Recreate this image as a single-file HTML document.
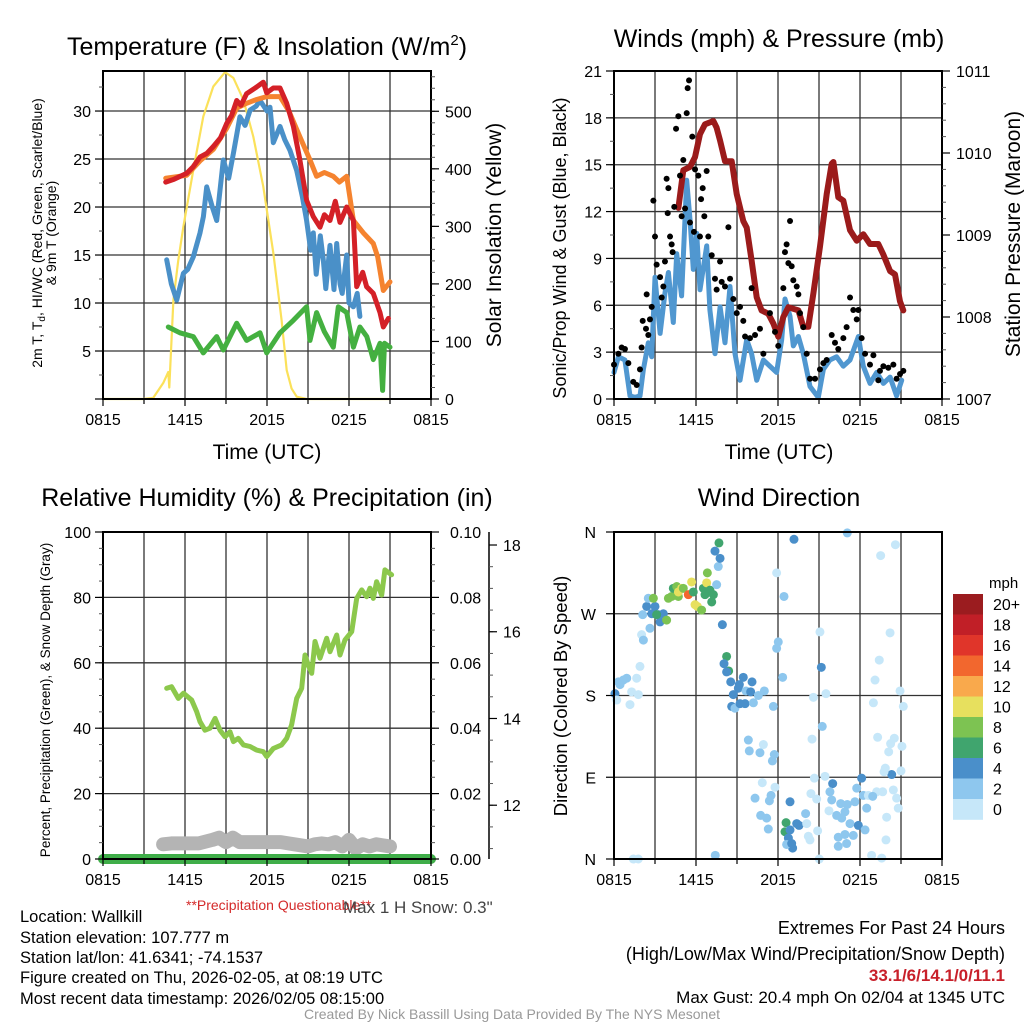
<!DOCTYPE html>
<html><head><meta charset="utf-8"><style>
html,body{margin:0;padding:0;background:#fff;}
svg{display:block;font-family:"Liberation Sans",Arial,sans-serif;}
</style></head><body>
<svg id="fig" width="1024" height="1024" viewBox="0 0 1024 1024" xmlns="http://www.w3.org/2000/svg">
<rect x="0" y="0" width="1024" height="1024" fill="#fff"/>
<text x="267" y="55" font-size="25" text-anchor="middle">Temperature (F) &amp; Insolation (W/m<tspan font-size="15" dy="-10">2</tspan><tspan dy="10">)</tspan></text>
<text x="779" y="47" font-size="25" text-anchor="middle">Winds (mph) &amp; Pressure (mb)</text>
<text x="267" y="506" font-size="25" text-anchor="middle">Relative Humidity (%) &amp; Precipitation (in)</text>
<text x="779" y="506" font-size="25" text-anchor="middle">Wind Direction</text>
<text x="267" y="459" font-size="21" text-anchor="middle">Time (UTC)</text>
<text x="779" y="459" font-size="21" text-anchor="middle">Time (UTC)</text>
<text transform="translate(42,233) rotate(-90)" font-size="14" text-anchor="middle">2m T, T<tspan font-size="10" dy="3">d</tspan><tspan dy="-3">, HI/WC (Red, Green, Scarlet/Blue)</tspan></text>
<text transform="translate(56,233) rotate(-90)" font-size="14" text-anchor="middle">&amp; 9m T (Orange)</text>
<text transform="translate(501,235) rotate(-90)" font-size="21" text-anchor="middle">Solar Insolation (Yellow)</text>
<text transform="translate(566,248) rotate(-90)" font-size="18" text-anchor="middle">Sonic/Prop Wind &amp; Gust (Blue, Black)</text>
<text transform="translate(1020,234) rotate(-90)" font-size="21" text-anchor="middle">Station Pressure (Maroon)</text>
<text transform="translate(50,700) rotate(-90)" font-size="13.5" text-anchor="middle">Percent, Precipitation (Green), &amp; Snow Depth (Gray)</text>
<text transform="translate(567,696) rotate(-90)" font-size="18.5" text-anchor="middle">Direction (Colored By Speed)</text>
<text x="186" y="910" font-size="14" fill="#d42a2a">**Precipitation Questionable**</text>
<text x="343" y="913" font-size="17" fill="#444">Max 1 H Snow: 0.3"</text>
<g font-size="16.5">
<text x="20" y="922">Location: Wallkill</text>
<text x="20" y="943">Station elevation: 107.777 m</text>
<text x="20" y="963">Station lat/lon: 41.6341; -74.1537</text>
<text x="20" y="983">Figure created on Thu, 2026-02-05, at 08:19 UTC</text>
<text x="20" y="1004">Most recent data timestamp: 2026/02/05 08:15:00</text>
</g>
<g font-size="18" text-anchor="end">
<text x="1005" y="934">Extremes For Past 24 Hours</text>
<text x="1005" y="960">(High/Low/Max Wind/Precipitation/Snow Depth)</text>
<text x="1005" y="981" fill="#c8202a" font-weight="bold" font-size="17">33.1/6/14.1/0/11.1</text>
<text x="1005" y="1003" font-size="17">Max Gust: 20.4 mph On 02/04 at 1345 UTC</text>
</g>
<text x="512" y="1019" font-size="14" fill="#999" text-anchor="middle">Created By Nick Bassill Using Data Provided By The NYS Mesonet</text>
</svg>
<script>
// ---- data ----
const timeTickLabels = ["0815","1415","2015","0215","0815"];
const tempRedHours = [4.59,5.2,6.12,6.6,7.10,7.6,8.07,8.6,9.05,9.4,9.78,10.1,10.51,11.24,11.73,11.98,12.46,12.95,13.44,13.93,14.41,14.90,15.39,15.88,16.2,16.61,17.0,17.34,17.83,18.32,18.56,19.0,19.29,19.78,20.27,20.51,20.88];
const tempRedValues = [22.6,22.9,23.5,24.2,25.2,25.6,26.3,27.2,28.7,29.5,31.1,30.6,31.8,32.5,33,31.9,32.4,32.4,30.8,28.4,24.9,20.7,19,17.9,19.2,18.6,20.6,18.4,20,18.6,11.7,13.2,11.7,11,9,7.5,8.4];
const temp9mHours = [4.59,6.12,7.10,8.07,9.05,9.78,10.51,11.24,11.98,12.95,13.6,14.41,15.15,15.63,16.2,16.85,17.3,17.83,18.32,19.05,19.78,20.1,20.51,21.0];
const temp9mValues = [23,23.3,24.8,26,28.2,30.3,30.8,31.2,31.5,31.5,30,27.3,24.9,23.2,23.6,23.2,22.6,23.2,18.6,17.3,16.2,14.8,11.3,12.2];
const tempBlueHours = [4.66,5.0,5.39,5.88,6.2,6.61,7.10,7.35,7.59,8.0,8.32,8.80,9.2,9.54,10.02,10.4,10.76,11.2,11.49,12.0,12.22,12.46,12.95,13.3,13.68,14.17,14.6,14.90,15.2,15.39,15.6,15.9,16.12,16.3,16.61,16.9,17.1,17.34,17.5,17.83,18.0,18.32,18.6,18.80];
const tempBlueValues = [14.5,12,10.3,13.1,13.5,14.8,17.3,19,22.1,20,18.6,24.9,23,25.6,29.4,28.5,30.1,30.5,31.1,30,30.4,26.7,28.4,27,25.9,23.8,21,18.6,15.5,17.3,13,17,14.5,11.5,16,11.4,16.2,12,11,15,10,9.6,11,8.6];
const tempGreenHours = [4.78,5.63,6.61,7.34,8.32,8.80,9.78,10.51,11.49,11.98,12.95,13.93,14.90,15.15,15.63,16.2,16.85,17.22,17.83,18.32,18.80,19.3,19.78,20.27,20.46,20.6,21.0];
const tempGreenValues = [7.5,6.9,6.5,4.8,6.5,5.1,7.9,6.1,6.9,4.8,6.9,8.2,9.6,6.1,9,7,5.4,9.6,9,5.4,7.5,6.5,4.1,5.8,0.9,5.8,5.4];
const insolHours = [0,2.95,3.68,4.41,4.78,4.85,5.15,5.5,5.88,6.61,7.34,8.07,8.93,9.54,10.27,11.0,11.73,12.46,13.07,13.44,13.8,14.17,14.9,21.0];
const insolValues = [0,0,2,28,47,20,172,240,300,398,491,543,568,558,520,456,369,254,137,50,18,4,0,0];
const windHours = [0,0.32,0.80,1.17,1.54,1.90,2.15,2.51,2.76,3.0,3.37,3.73,3.98,4.34,4.59,4.95,5.32,5.56,5.80,6.05,6.29,6.78,7.02,7.39,7.76,8.12,8.49,8.85,9.22,9.71,10.07,10.44,10.93,11.41,11.90,12.27,12.51,12.88,13.12,13.49,13.85,14.34,14.95,15.32,15.80,16.29,16.78,17.27,17.88,18.24,18.73,19.22,19.71,20.20,20.68,21.05];
const windValues = [1.7,2.7,2.5,0.2,0.1,0.2,1.9,3.6,2.7,7.8,4.2,6.8,8.1,4.9,9.3,6.6,14,11.5,8.3,10.6,7,9.8,5.7,2.9,5.9,3.6,7.2,2.9,1.2,3.8,2.9,1.2,2.5,2.1,1.7,3.8,6.4,5.3,3.4,4,2.9,0.8,0.1,1.9,2.5,2.7,2.1,2.5,4,2.1,1,1.7,1,1.4,0.2,1.2];
const gustHours = [0,.32,.56,.80,1.05,1.41,1.66,1.90,2.02,2.10,2.34,2.51,2.63,2.76,2.39,2.88,3.0,3.12,3.37,3.49,3.61,3.73,3.85,3.98,3.93,4.10,4.22,4.29,4.41,4.54,4.71,4.83,4.95,5.07,5.20,5.32,5.39,5.49,5.56,5.73,5.85,5.93,6.17,6.29,6.37,6.49,6.61,6.78,6.90,7.15,7.39,7.51,7.76,7.88,8.12,8.37,8.49,8.73,8.98,9.22,9.46,9.59,9.95,10.07,10.32,10.68,10.93,11.41,11.78,12.02,12.39,12.51,12.63,12.88,12.76,13.0,13.12,13.37,13.49,13.61,13.85,14.10,14.34,14.71,15.07,15.32,15.56,15.93,16.17,16.41,16.78,17.02,17.27,17.51,17.76,17.88,18.12,18.37,18.73,18.98,19.34,19.46,19.71,20.07,20.44,20.68,20.93,21.17];
const gustValues = [2.2,2.9,3.3,3.2,2.3,1.1,0.9,1.9,3.3,5.0,4.5,4.1,5.1,5.9,6.7,12.7,10.4,8.6,7.8,6.5,7.2,8.8,14.1,13.5,11.9,10.4,9.9,9.4,12.3,17.3,18.1,14.3,11.7,15.3,12.2,18.3,19.9,20.4,11.3,16.8,10.7,14.7,14.3,10.4,12.8,13.5,11.7,14.6,10.4,9.2,7.7,7.0,8.8,7.5,7.2,11.0,7.7,6.4,5.5,5.9,5.0,4.0,3.9,7.1,4.1,4.5,2.9,5.5,4.3,3.4,7.1,9.4,9.9,11.4,8.7,8.5,7.6,7.2,6.7,5.5,4.6,2.9,1.3,1.3,1.9,2.3,2.5,4.1,3.6,3.2,3.9,4.6,6.5,5.7,5.1,5.7,3.9,2.9,2.2,2.8,1.2,1.8,2.1,2.0,2.2,1.3,1.6,1.8];
const pressureHours = [4.71,5.07,5.56,5.93,6.29,6.66,7.27,7.51,7.76,8.12,8.61,8.98,9.46,9.71,10.07,10.44,10.80,11.29,11.66,12.02,12.39,12.76,13.12,13.49,13.85,14.22,14.59,15.07,15.56,15.93,16.05,16.41,16.78,17.27,17.76,18.24,18.73,19.34,19.71,20.20,20.56,20.93,21.17];
const pressureValues = [1009.33,1009.79,1009.83,1009.95,1010.23,1010.35,1010.39,1010.31,1010.15,1009.90,1009.90,1009.5,1009.17,1009.09,1008.69,1008.24,1008.08,1008.04,1007.92,1007.76,1008.0,1008.12,1008.1,1008.08,1007.88,1007.88,1008.29,1008.86,1009.5,1009.87,1009.89,1009.46,1009.42,1009.06,1008.93,1009.01,1008.89,1008.89,1008.76,1008.56,1008.52,1008.19,1008.08];
const rhHours = [4.66,5.02,5.51,5.88,6.49,6.85,7.10,7.46,7.83,8.20,8.56,8.93,9.29,9.54,9.90,10.27,10.76,11.24,11.73,11.98,12.46,13.07,13.44,13.80,14.17,14.54,14.78,15.02,15.27,15.51,15.88,16.37,16.61,17.10,17.34,17.71,18.20,18.56,18.93,19.29,19.54,19.78,20.02,20.39,20.63,21.12];
const rhValues = [52.2,52.7,49.1,50.7,48.6,45.1,42.0,39.4,40.0,43.0,39.4,37.4,38.9,35.9,36.9,34.9,34.4,33.3,32.8,31.3,33.8,34.9,36.9,41.0,49.1,52.2,62.4,59.3,56.8,66.5,61.4,67.5,63.4,68.5,62.4,67.0,69.5,79.7,82.3,80.2,82.8,79.7,84.8,80.7,88.4,86.9];
const precipHours = [0,24];
const precipValues = [0,0];
const snowHours = [4.4,5,6,7,8,8.5,9,9.5,10,11,12,13,14,15,15.5,16,16.5,17,17.5,18,18.5,19,19.5,20,21];
const snowValues = [11.1,11.12,11.12,11.12,11.2,11.25,11.15,11.25,11.15,11.15,11.15,11.15,11.1,11.05,11.1,11.12,11.1,11.15,11.05,11.2,11.0,11.1,11.05,11.1,11.05];
const dirHours = [.32,.68,.93,.44,.07,.20,1.17,1.29,1.66,1.90,1.78,1.41,1.78,
2.02,2.15,2.63,2.10,2.39,2.51,2.76,3.0,3.24,3.37,3.61,3.85,2.88,3.12,3.98,4.22,4.34,4.71,4.59,4.71,4.95,5.07,5.44,5.68,5.80,5.93,6.10,6.41,6.54,6.78,6.83,7.02,7.27,7.15,6.66,7.51,7.63,7.76,7.39,7.68,
7.93,8.24,8.05,8.39,8.24,8.54,9.46,9.17,9.10,10.10,9.66,10.0,10.56,11.0,8.73,8.61,8.85,9.22,9.59,10.20,11.66,
9.83,9.90,10.68,10.93,11.73,11.59,10.85,10.32,11.49,11.37,11.78,10.73,11.17,11.29,12.02,11.90,12.34,12.44,11.90,13.17,12.59,12.51,12.88,12.88,13.37,13.54,14.02,12.76,13.07,12.63,13.0,14.22,14.34,14.10,14.90,14.41,14.83,14.49,14.66,15.44,7.41,
15.07,15.17,15.51,14.59,15.24,15.02,17.07,16.0,15.80,15.93,16.59,17.07,17.63,17.76,18.12,18.24,15.73,16.29,16.66,16.90,17.27,17.88,18.37,18.49,16.41,16.90,17.51,16.41,17.02,18.61,19.22,19.66,18.93,19.95,20.44,20.68,20.80,21.0,20.32,19.85,19.76,20.10,20.51,20.24,21.07,19.29,18.98,21.17,20.93,19.10,19.41,20.20,19.51,20.59,19.90,18.85,19.59];
const dirDegrees = [195,197,199,192,182,175,170,184,199,212,181,0,0,
247,241,254,269,278,287,270,278,269,261,270,263,287,269,287,289,298,289,300,294,298,298,291,305,294,280,278,274,298,304,315,296,291,283,291,302,322,331,339,348,
258,223,215,207,206,195,200,192,188,195,185,184,180,185,181,168,166,171,171,172,168,
131,119,117,126,115,108,84,67,70,64,79,48,45,33,239,232,200,289,315,352,40,30,63,32,39,37,50,23,12,16,17,25,21,39,31,72,66,132,89,91,4,
250,211,182,178,146,0,359,83,74,65,61,60,63,78,89,70,53,48,45,52,39,37,32,56,24,27,26,14,17,70,74,74,69,46,76,67,56,97,93,100,96,118,133,127,124,134,172,168,185,197,219,249,334,346,21,4,1];
const dirSpeeds = [3,3,3,3,5,1,1,1,1,1,1,1,1,
1,3,3,3,5,3,5,5,5,5,5,9,9,7,9,9,7,9,9,11,11,9,15,11,7,11,11,9,7,11,9,7,7,7,7,3,3,5,5,7,
5,7,5,7,5,5,5,5,5,5,3,5,3,3,5,5,3,5,5,3,3,
3,3,3,1,3,3,1,3,3,3,1,3,3,3,3,3,3,3,1,5,7,7,5,5,5,5,3,5,5,3,5,1,1,1,1,1,1,1,1,1,3,
1,5,1,1,3,1,3,5,3,3,3,3,3,3,5,3,1,3,3,3,3,5,3,3,3,3,3,3,3,1,1,1,3,1,1,1,1,1,5,1,1,1,1,1,1,1,1,1,1,1,1,1,1,1,1,1,1];
const speedBinLabels = ["20+","18","16","14","12","10","8","6","4","2","0"];
const speedBinColors = ["#9b1c1f","#c11f27","#e0352a","#f2672e","#f9a94c","#e7e05e","#7dc352","#40a56e","#4a8fca","#8ec7ee","#c6e7f9"];

// ---- helpers ----
const NS="http://www.w3.org/2000/svg";
const svg=document.getElementById('fig');
const TICK_FS=16;
function mk(tag,attrs,parent){const e=document.createElementNS(NS,tag);for(const k in attrs)e.setAttribute(k,attrs[k]);(parent||svg).appendChild(e);return e;}
function lin(d0,d1,r0,r1){return v=>r0+(v-d0)/(d1-d0)*(r1-r0);}
const P1={x0:103,x1:431,y0:71,y1:399}, P2={x0:614,x1:942,y0:71,y1:399}, P3={x0:103,x1:431,y0:532,y1:859}, P4={x0:614,x1:942,y0:532,y1:859};
function xs(P){return lin(0,24,P.x0,P.x1);}
function pathD(hs,vs,fx,fy){let d='';const n=Math.min(hs.length,vs.length);for(let i=0;i<n;i++){d+=(i?'L':'M')+fx(hs[i]).toFixed(1)+' '+fy(vs[i]).toFixed(1);}return d;}

function grid(P,ys,name){
  const g=mk('g',{});
  
  
  const fx=xs(P);
  for(let h=3;h<24;h+=3){const l=mk('line',{x1:fx(h),x2:fx(h),y1:P.y0,y2:P.y1,stroke:'#333','stroke-width':1.3},g);
    
    }
  ys.forEach(y=>{const l=mk('line',{x1:P.x0,x2:P.x1,y1:y,y2:y,stroke:'#333','stroke-width':1.3},g);
    
    });
}
function frame(P,name){
  const r=mk('rect',{x:P.x0,y:P.y0,width:P.x1-P.x0,height:P.y1-P.y0,fill:'none',stroke:'#000','stroke-width':2});
  
  
}
function xAxis(P,name){
  const fx=xs(P);const g=mk('g',{});
  
  
  for(let h=0;h<=24;h+=3){const l=mk('line',{x1:fx(h),x2:fx(h),y1:P.y1,y2:P.y1+(h%6===0?7:5),stroke:'#000','stroke-width':1.2},g);
    
    }
  timeTickLabels.forEach((t,i)=>{const tx=mk('text',{x:fx(i*6),y:P.y1+26,'font-size':TICK_FS,'text-anchor':'middle'},g);tx.textContent=t;
    
    });
}
function yAxis(x,fy,ticks,labels,minor,side,name,labelOffset){
  const g=mk('g',{});
  
  
  const dir=side==='left'?-1:1;
  minor.forEach(v=>{const l=mk('line',{x1:x,x2:x+dir*4,y1:fy(v),y2:fy(v),stroke:'#555','stroke-width':1},g);
    
    });
  ticks.forEach((v,i)=>{const l=mk('line',{x1:x,x2:x+dir*8,y1:fy(v),y2:fy(v),stroke:'#000','stroke-width':1.2},g);
    
    
    const t=mk('text',{x:x+dir*(labelOffset||12),y:fy(v)+6,'font-size':TICK_FS,'text-anchor':side==='left'?'end':'start'},g);t.textContent=labels[i];
    
    });
}
function range(a,b,s){const r=[];for(let v=a;v<=b+1e-9;v+=s)r.push(+v.toFixed(4));return r;}

// ---- Panel 1 ----
{
const fx=xs(P1), fy=lin(0,34.17,P1.y1,P1.y0), fyr=lin(0,570,P1.y1,P1.y0);
const lt=[5,10,15,20,25,30];
grid(P1,lt.map(fy),'temperature');
const ins=mk('path',{d:pathD(insolHours,insolValues,fx,fyr),fill:'none',stroke:'#fbe15a','stroke-width':2.2,'stroke-linejoin':'round'});


[[tempGreenHours,tempGreenValues,'#44b040','dewpoint-line'],[tempBlueHours,tempBlueValues,'#4a90c8','wind-chill-line'],[temp9mHours,temp9mValues,'#f5832f','temperature-9m-line'],[tempRedHours,tempRedValues,'#d42027','temperature-2m-line']].forEach(s=>{
  const p=mk('path',{d:pathD(s[0],s[1],fx,fy),fill:'none',stroke:s[2],'stroke-width':5,'stroke-linejoin':'round','stroke-linecap':'round'});
  
  
});
frame(P1,'temperature');
xAxis(P1,'temperature');
yAxis(P1.x0,fy,[0,...lt],['','5','10','15','20','25','30'],range(0,34,2.5),'left','temperature-left-axis');
yAxis(P1.x1,fyr,[0,100,200,300,400,500],['0','100','200','300','400','500'],range(0,560,20),'right','insolation-right-axis',14);
}
// ---- Panel 2 ----
{
const fx=xs(P2), fy=lin(0,21,P2.y1,P2.y0), fyr=lin(1007,1011,P2.y1,P2.y0);
const lt=[3,6,9,12,15,18];
grid(P2,lt.map(fy),'winds');
const w=mk('path',{d:pathD(windHours,windValues,fx,fy),fill:'none',stroke:'#5097d0','stroke-width':5,'stroke-linejoin':'round','stroke-linecap':'round'});


const pr=mk('path',{d:pathD(pressureHours,pressureValues,fx,fyr),fill:'none',stroke:'#9b1b1b','stroke-width':6,'stroke-linejoin':'round','stroke-linecap':'round'});


const gg=mk('g',{});


for(let i=0;i<Math.min(gustHours.length,gustValues.length);i++){
  const c=mk('circle',{cx:fx(gustHours[i]),cy:fy(gustValues[i]),r:3,fill:'#000'},gg);
  
  
}
frame(P2,'winds');
xAxis(P2,'winds');
yAxis(P2.x0,fy,[0,3,6,9,12,15,18,21],['0','3','6','9','12','15','18','21'],range(0,21,1.5),'left','wind-left-axis');
yAxis(P2.x1,fyr,[1007,1008,1009,1010,1011],['1007','1008','1009','1010','1011'],range(1007,1011,0.2),'right','pressure-right-axis',14);
}
// ---- Panel 3 ----
{
const fx=xs(P3), fy=lin(0,100,P3.y1,P3.y0), fyp=lin(0,0.1,P3.y1,P3.y0), fys=lin(10.76,18.3,P3.y1,P3.y0);
const lt=[20,40,60,80];
grid(P3,lt.map(fy),'humidity');
const sn=mk('path',{d:pathD(snowHours,snowValues,fx,fys),fill:'none',stroke:'#b4b4b4','stroke-width':14,'stroke-linejoin':'round','stroke-linecap':'round'});


const rh=mk('path',{d:pathD(rhHours,rhValues,fx,fy),fill:'none',stroke:'#8cc84c','stroke-width':5,'stroke-linejoin':'round','stroke-linecap':'round'});


const pc=mk('path',{d:pathD(precipHours,precipValues,fx,fyp),fill:'none',stroke:'#3fae49','stroke-width':10,'stroke-linecap':'round'});


frame(P3,'humidity');
xAxis(P3,'humidity');
yAxis(P3.x0,fy,[0,20,40,60,80,100],['0','20','40','60','80','100'],range(0,100,5),'left','humidity-left-axis');
yAxis(P3.x1,fyp,[0,0.02,0.04,0.06,0.08,0.1],['0.00','0.02','0.04','0.06','0.08','0.10'],range(0,0.1,0.005),'right','precip-right-axis',19);
const ax=mk('line',{x1:489,x2:489,y1:P3.y0,y2:P3.y1,stroke:'#000','stroke-width':1.5});


yAxis(489,fys,[12,14,16,18],['12','14','16','18'],range(11,18,0.5),'right','snow-depth-axis',14);
}
// ---- Panel 4 ----
{
const fx=xs(P4), fy=lin(0,360,P4.y1,P4.y0);
grid(P4,[90,180,270].map(fy),'direction');
const g=mk('g',{});


const n=Math.min(dirHours.length,dirDegrees.length,dirSpeeds.length);
for(let i=0;i<n;i++){
  const bin=Math.min(10,Math.floor(dirSpeeds[i]/2));
  const c=mk('circle',{cx:fx(dirHours[i]),cy:fy(dirDegrees[i]),r:4.5,fill:speedBinColors[10-bin]},g);
  
  
}
frame(P4,'direction');
xAxis(P4,'direction');
yAxis(P4.x0,fy,[0,90,180,270,360],['N','E','S','W','N'],[],'left','direction-left-axis',18);
const cb=mk('g',{});


const ct=mk('text',{x:989,y:588,'font-size':15},cb);ct.textContent='mph';


speedBinLabels.forEach((lab,i)=>{
  const r=mk('rect',{x:953,y:594+i*20.5,width:30,height:20.8,fill:speedBinColors[i]},cb);
  
  
  const t=mk('text',{x:993,y:594+i*20.5+16,'font-size':16},cb);t.textContent=lab;
  
  
});
}
</script>
</body></html>
